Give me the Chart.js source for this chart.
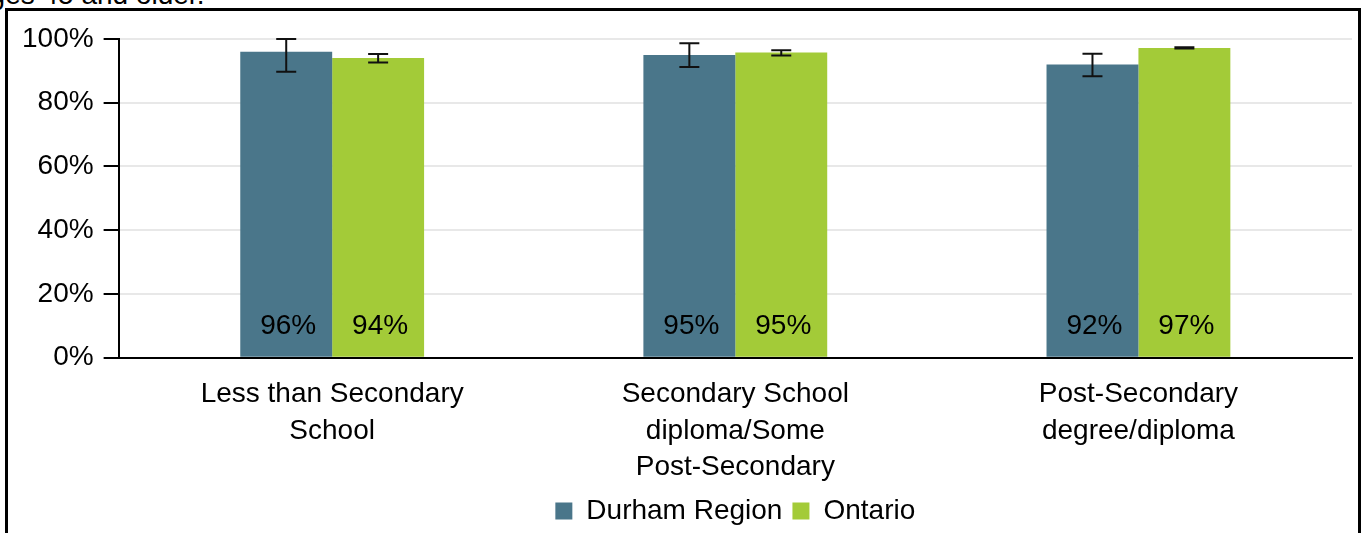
<!DOCTYPE html>
<html>
<head>
<meta charset="utf-8">
<script src="https://cdn.jsdelivr.net/npm/chart.js@4.4.0/dist/chart.umd.min.js"></script>
<style>
  html, body { margin: 0; padding: 0; background: #fff; overflow: hidden; }
  body { width: 1366px; height: 533px; position: relative; font-family: "Liberation Sans", Arial, sans-serif; }
  #caption { position: absolute; left: -26px; top: -21px; font-size: 28px; color: #000; white-space: nowrap; }
  #box { position: absolute; left: 5px; top: 8px; width: 1356px; height: 540px; border: 3px solid #000; box-sizing: border-box; }
  #wrap { position: absolute; left: 0; top: 0; width: 1366px; height: 533px; }
</style>
</head>
<body>
<div id="caption">ages 45 and older.</div>
<div id="box"></div>
<div id="wrap"><canvas id="grafico"></canvas></div>
<script>
    // dados do gráfico
    const categorias = [
        ['Less than Secondary', 'School'],
        ['Secondary School', 'diploma/Some', 'Post-Secondary'],
        ['Post-Secondary', 'degree/diploma']
    ];
    const durham = [96, 95, 92];
    const ontario = [94, 95.8, 97.2];
    const durhamBaixo = [89.7, 91.2, 88.3];
    const durhamAlto = [100, 98.7, 95.4];
    const ontarioBaixo = [92.6, 94.8, 97.0];
    const ontarioAlto = [95.3, 96.5, 97.4];
    const rotulos = [['96%', '95%', '92%'], ['94%', '95%', '97%']];
    const ticksY = [0, 20, 40, 60, 80, 100];

    const fonte = '"Liberation Sans", Arial, sans-serif';

    // recua um pouco as categorias das pontas do eixo x
    const recuoX = {
        id: 'recuoX',
        afterLayout(chart) {
            const s = chart.scales.x;
            s._startPixel += 12;
            s._length -= 24;
        }
    };

    // barras de erro desenhadas com as escalas do gráfico
    const barrasErro = {
        id: 'barrasErro',
        afterDatasetsDraw(chart) {
            const c = chart.ctx;
            const y = chart.scales.y;
            const faixas = [[durhamBaixo, durhamAlto], [ontarioBaixo, ontarioAlto]];
            c.save();
            c.strokeStyle = '#111';
            c.lineWidth = 2;
            faixas.forEach((f, i) => {
                chart.getDatasetMeta(i).data.forEach((bar, j) => {
                    const yb = y.getPixelForValue(f[0][j]);
                    const ya = y.getPixelForValue(f[1][j]);
                    c.beginPath();
                    c.moveTo(bar.x, yb); c.lineTo(bar.x, ya);
                    c.moveTo(bar.x - 10, yb); c.lineTo(bar.x + 10, yb);
                    c.moveTo(bar.x - 10, ya); c.lineTo(bar.x + 10, ya);
                    c.stroke();
                });
            });
            // rótulos de valor perto da base das barras
            c.fillStyle = '#000';
            c.font = '28px ' + fonte;
            c.textAlign = 'center';
            c.textBaseline = 'middle';
            rotulos.forEach((r, i) => {
                chart.getDatasetMeta(i).data.forEach((bar, j) => {
                    c.fillText(r[j], bar.x + 2, y.getPixelForValue(0) - 31);
                });
            });
            c.restore();
        }
    };

    const ctx = document.getElementById('grafico').getContext('2d');
    const grafico = new Chart(ctx, {
        type: 'bar',
        data: {
            labels: categorias,
            datasets: [{
                label: 'Durham Region',
                data: durham,
                backgroundColor: '#4a768a',
                categoryPercentage: 0.456,
                barPercentage: 1
            }, {
                label: 'Ontario',
                data: ontario,
                backgroundColor: '#a3cb38',
                categoryPercentage: 0.456,
                barPercentage: 1
            }]
        },
        options: {
            responsive: true,
            maintainAspectRatio: false,
            animation: false,
            layout: { padding: { left: 12, right: 14, top: 39, bottom: -2 } },
            plugins: {
                tooltip: { enabled: false },
                legend: {
                    position: 'bottom',
                    fullSize: false,
                    labels: {
                        boxWidth: 17,
                        boxHeight: 17,
                        padding: 10,
                        color: '#000',
                        font: { family: fonte, size: 28 }
                    }
                }
            },
            scales: {
                x: {
                    grid: { display: false, drawTicks: false },
                    border: { color: '#000', width: 2 },
                    afterFit: (s) => { s.height -= 17; },
                    ticks: {
                        color: '#000',
                        padding: 19,
                        maxRotation: 0,
                        font: { family: fonte, size: 28, lineHeight: 1.29 }
                    }
                },
                y: {
                    min: 0,
                    max: 100,
                    afterBuildTicks: (s) => { s.ticks = ticksY.map(v => ({ value: v })); },
                    grid: { color: '#e8e8e8', lineWidth: 2, tickLength: 15, tickColor: '#000', tickWidth: 2 },
                    border: { color: '#000', width: 2 },
                    ticks: {
                        color: '#000',
                        padding: 10,
                        font: { family: fonte, size: 28 },
                        callback: (v) => v + '%'
                    }
                }
            }
        },
        plugins: [recuoX, barrasErro]
    });
</script>
</body>
</html>
